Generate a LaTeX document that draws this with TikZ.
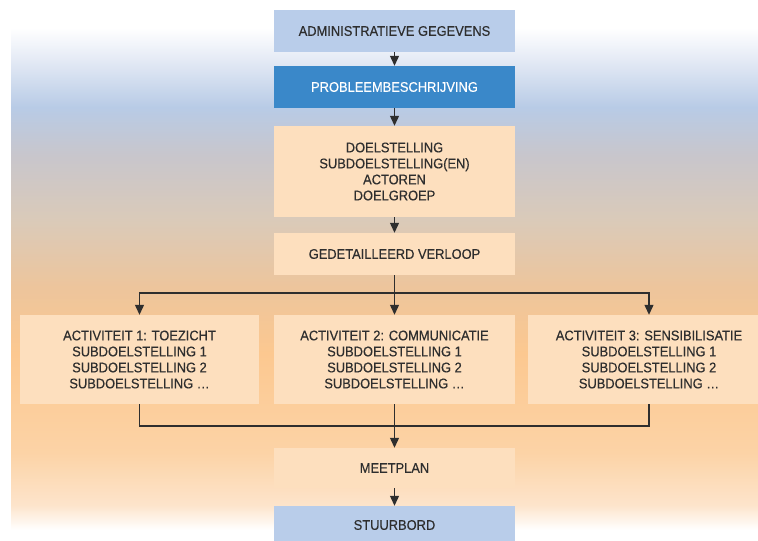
\documentclass[tikz,border=0pt]{standalone}
\usepackage{fontspec}
\setmainfont[FakeStretch=0.92,FakeBold=0.4]{Liberation Sans}
\usetikzlibrary{arrows.meta}
\definecolor{boxblue}{HTML}{B9CDEA}
\definecolor{darkblue}{HTML}{3A88C9}
\definecolor{peach}{HTML}{FDDFBE}
\definecolor{inkgrey}{HTML}{2E2E2E}
\definecolor{bgA}{HTML}{FDE4CB}
\definecolor{bgB}{HTML}{FCD3A6}
\definecolor{bgC}{HTML}{FCC890}
\definecolor{bgD}{HTML}{EDC59C}
\definecolor{bgE}{HTML}{DACAB9}
\definecolor{bgF}{HTML}{C8C6CC}
\definecolor{bgG}{HTML}{B8CBE6}
\definecolor{bgH}{HTML}{E4EAF5}
\pgfdeclareverticalshading{backdrop}{100bp}{color(0bp)=(white); color(25bp)=(white);
  color(27.5bp)=(bgA); color(32.7bp)=(bgB); color(42.6bp)=(bgC); color(49.2bp)=(bgD);
  color(55.9bp)=(bgE); color(62.35bp)=(bgF); color(67.1bp)=(bgG); color(71.8bp)=(bgH);
  color(75bp)=(white); color(100bp)=(white)}
\begin{document}
\begin{tikzpicture}[x=1pt,y=-1pt,
    box/.style={inner sep=0pt,align=center,text=inkgrey,
      font=\fontsize{14}{16}\selectfont},
    arr/.style={draw=inkgrey,line width=1.2pt,-{Triangle[length=10pt,width=9pt]}},
    line/.style={draw=inkgrey,line width=1.2pt}]
  \useasboundingbox (0,0) rectangle (758,541);
  \shade[shading=backdrop] (11,28) rectangle (758,530);
  \node[box,fill=boxblue,minimum width=241pt,minimum height=42pt] (admin) at (394.5,31) {ADMINISTRATIEVE GEGEVENS};
  \node[box,fill=darkblue,text=white,minimum width=241pt,minimum height=42pt] (prob) at (394.5,87) {PROBLEEMBESCHRIJVING};
  \node[box,fill=peach,minimum width=241pt,minimum height=91pt] (doel) at (394.5,171.5)
    {DOELSTELLING\\SUBDOELSTELLING(EN)\\ACTOREN\\DOELGROEP};
  \node[box,fill=peach,minimum width=241pt,minimum height=42pt] (verloop) at (394.5,254) {GEDETAILLEERD VERLOOP};
  \node[box,fill=peach,minimum width=239pt,minimum height=89pt] (act1) at (139.5,359.5)
    {ACTIVITEIT 1: TOEZICHT\\SUBDOELSTELLING 1\\SUBDOELSTELLING 2\\SUBDOELSTELLING \dots};
  \node[box,fill=peach,minimum width=241pt,minimum height=89pt] (act2) at (394.5,359.5)
    {ACTIVITEIT 2: COMMUNICATIE\\SUBDOELSTELLING 1\\SUBDOELSTELLING 2\\SUBDOELSTELLING \dots};
  \node[box,fill=peach,minimum width=242pt,minimum height=89pt] (act3) at (649,359.5)
    {ACTIVITEIT 3: SENSIBILISATIE\\SUBDOELSTELLING 1\\SUBDOELSTELLING 2\\SUBDOELSTELLING \dots};
  \node[box,fill=peach,minimum width=241pt,minimum height=40pt] (meetplan) at (394.5,468) {MEETPLAN};
  \node[box,fill=boxblue,minimum width=241pt,minimum height=38pt] (stuurbord) at (394.5,525) {STUURBORD};
  \coordinate (split) at (394.5,293);
  \coordinate (join) at (394.5,426);
  \draw[arr] (admin) -- (prob);
  \draw[arr] (prob) -- (doel);
  \draw[arr] (doel) -- (verloop);
  \draw[line] (verloop) -- (split);
  \draw[arr] (split) -| (act1.north);
  \draw[arr] (split) -- (act2);
  \draw[arr] (split) -| (act3.north);
  \draw[line] (act1.south) |- (join);
  \draw[line] (act3.south) |- (join);
  \draw[arr] (act2) -- (meetplan);
  \draw[arr] (meetplan) -- (stuurbord);
\end{tikzpicture}
\end{document}
